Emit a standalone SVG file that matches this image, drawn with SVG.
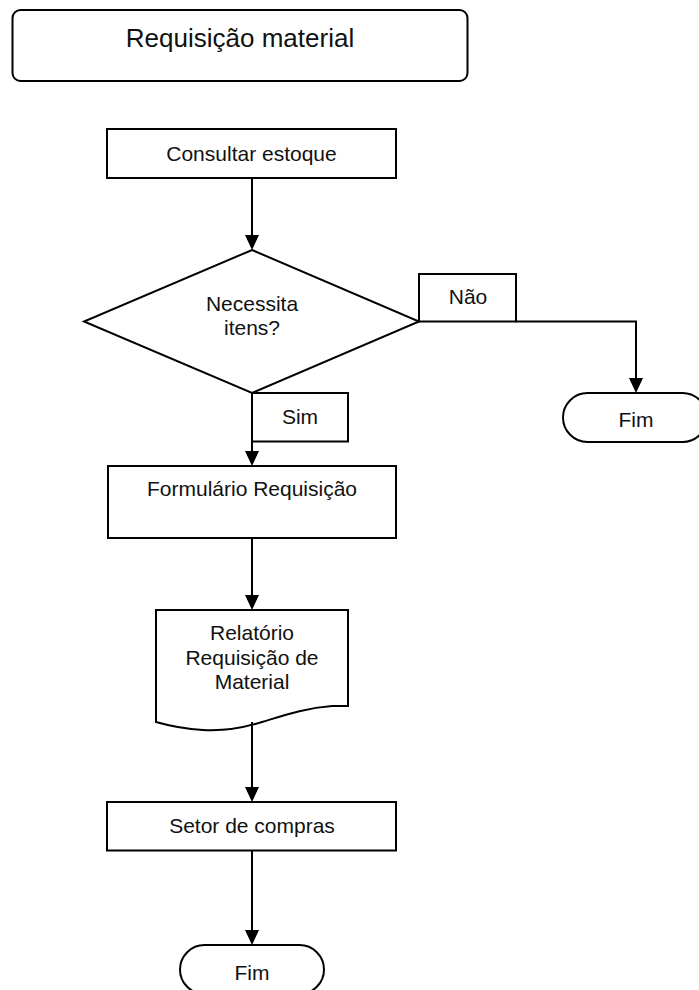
<svg xmlns="http://www.w3.org/2000/svg" width="699" height="990" viewBox="0 0 699 990">
<style>
.s{fill:#fff;stroke:#000;stroke-width:2}
.c{fill:none;stroke:#000;stroke-width:2;marker-end:url(#ah)}
text{font-family:"Liberation Sans",Arial,sans-serif;font-size:21px;fill:#111;text-anchor:middle}
.t{font-size:26px}
</style>
<defs>
<marker id="ah" markerWidth="15" markerHeight="14" refX="0" refY="7" orient="auto" markerUnits="userSpaceOnUse" viewBox="0 0 15 14" overflow="visible">
<path d="M0,0 L15,7 L0,14 Z" fill="#000"/>
</marker>
</defs>
<rect width="699" height="990" fill="#fff"/>
<g id="title"><rect class="s" x="12.5" y="10" width="455" height="71" rx="8"/><text class="t" x="240" y="47">Requisição material</text></g>
<g id="consultar"><rect class="s" x="107" y="129" width="289" height="49"/><text x="251.5" y="161">Consultar estoque</text></g>
<g id="decisao"><polygon class="s" points="252,250 419,321.5 252,393 84,321.5"/><text x="252" y="311">Necessita</text><text x="252" y="335">itens?</text></g>
<g id="nao"><rect class="s" x="419" y="274" width="97" height="47.5"/><text x="468" y="304">Não</text></g>
<g id="sim"><rect class="s" x="252" y="393" width="96" height="48.5"/><text x="300" y="424">Sim</text></g>
<g id="fim1"><rect class="s" x="563" y="393" width="144" height="49" rx="24.5"/><text x="636" y="427">Fim</text></g>
<g id="formulario"><rect class="s" x="108" y="466" width="288" height="72"/><text x="252" y="496">Formulário Requisição</text></g>
<g id="relatorio"><path class="s" d="M156,610 H348 V706 H332 C305,708 285,715 262,722 C240,729 220,731 203,730 C185,729 170,726 156,722 Z"/><text x="252" y="640">Relatório</text><text x="252" y="665">Requisição de</text><text x="252" y="689">Material</text></g>
<g id="setor"><rect class="s" x="107" y="802" width="289" height="48.5"/><text x="252" y="833">Setor de compras</text></g>
<g id="fim2"><rect class="s" x="180" y="945" width="144" height="49" rx="24.5"/><text x="252" y="980">Fim</text></g>
<g id="connectors">
<line class="c" x1="252" y1="178" x2="252" y2="235"/>
<polyline class="c" points="516,321.5 636,321.5 636,378"/>
<line class="c" x1="252" y1="441" x2="252" y2="451"/>
<line class="c" x1="252" y1="538" x2="252" y2="595"/>
<line class="c" x1="252" y1="722" x2="252" y2="787"/>
<line class="c" x1="252" y1="850" x2="252" y2="930"/>
</g>
</svg>
